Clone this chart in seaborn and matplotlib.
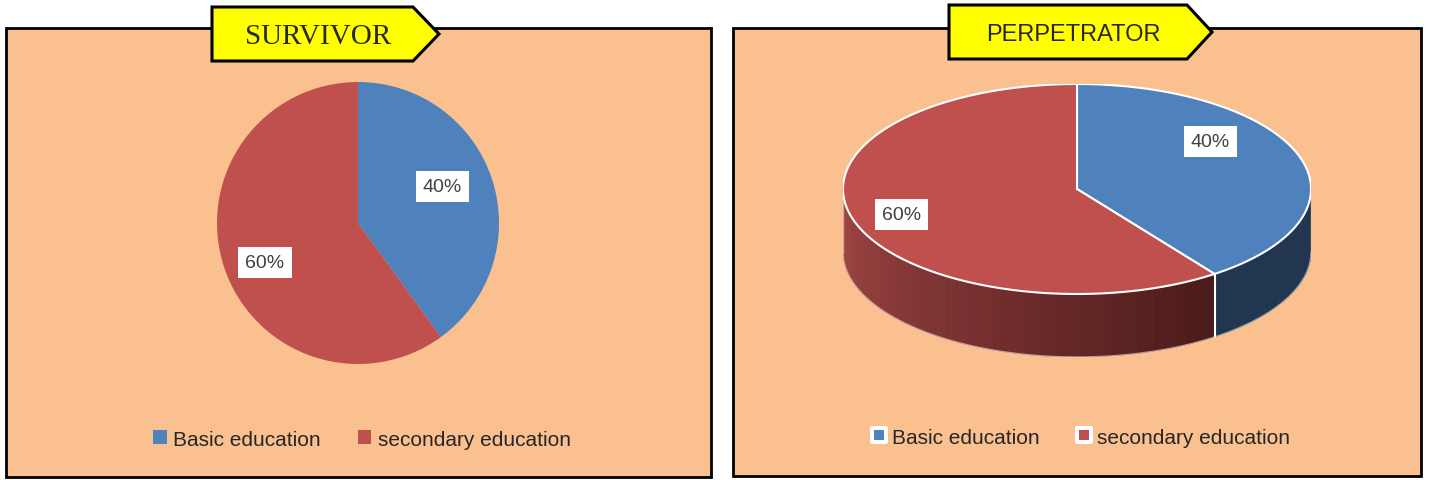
import numpy as np
import matplotlib.pyplot as plt
import seaborn as sns
from matplotlib.patches import Polygon, Rectangle, Patch
from matplotlib.lines import Line2D
from matplotlib.markers import MarkerStyle

# data
categories = ["Basic education", "secondary education"]
survivor_pct = [40, 60]
perpetrator_pct = [40, 60]
panel_titles = ["SURVIVOR", "PERPETRATOR"]

sns.set_style("white")
plt.rcParams["font.family"] = ["Liberation Sans", "DejaVu Sans"]

colors = sns.color_palette(["#4F81BD", "#C0504D"])
side_blue = "#1F3550"
bg = "#FAC090"
W, H = 1429, 481

fig = plt.figure(figsize=(W / 100, H / 100), dpi=100)

# background layer in pixel coordinates
base = fig.add_axes([0, 0, 1, 1])
base.set_xlim(0, W)
base.set_ylim(H, 0)
base.axis("off")

base.add_patch(Rectangle((6, 29), 705, 449, fc=bg, ec="black", lw=2))
base.add_patch(Rectangle((733, 29), 688, 448, fc=bg, ec="black", lw=2))

# yellow arrow banners
base.add_patch(Polygon([(212, 8), (413, 8), (439, 35), (413, 62), (212, 62)],
                       closed=True, fc="#FFFF00", ec="black", lw=2.2, zorder=3))
base.add_patch(Polygon([(949, 6), (1187, 6), (1212, 33), (1187, 60), (949, 60)],
                       closed=True, fc="#FFFF00", ec="black", lw=2.2, zorder=3))
base.text(318, 37, panel_titles[0], family="Liberation Serif", fontsize=21,
          ha="center", va="center", zorder=4)
base.text(1073, 35, panel_titles[1], family="Liberation Sans", fontsize=17,
          ha="center", va="center", zorder=4)

label_box = dict(fc="white", ec="none", pad=5)

# ---- left: flat pie ----
cx, cy, r = 358, 224, 141
ax1 = fig.add_axes([(cx - r) / W, (H - cy - r) / H, 2 * r / W, 2 * r / H])
wedges, _, autotexts = ax1.pie(
    survivor_pct, colors=colors, startangle=90, counterclock=False,
    autopct="%d%%", pctdistance=0.68,
    wedgeprops=dict(linewidth=0),
    textprops=dict(fontsize=14, color="#404040"),
)
# label spots used by the original chart (fraction of radius)
label_pos = [(0.60, 0.26), (-0.66, -0.28)]
for t, p in zip(autotexts, label_pos):
    t.set_bbox(label_box)
    t.set_position(p)
ax1.set_xlim(-1, 1)
ax1.set_ylim(-1, 1)
ax1.axis("off")

# ---- right: 3D-looking pie ----
rx = 234
k = 105 / rx      # vertical squash of the top face
d = 63 / rx       # thickness of the side wall
ax2 = fig.add_axes([843 / W, (H - 358) / H, 2 * rx / W, (k * 2 + d) * rx / H])
ax2.set_xlim(-1, 1)
ax2.set_ylim(-k - d, k)
ax2.axis("off")

fracs = np.array(perpetrator_pct) / sum(perpetrator_pct)
edges = 90 - 360 * np.concatenate([[0], np.cumsum(fracs)])  # clockwise from top


def visible_span(a0, a1):
    # part of the wedge [a0, a1] lying in the front half (-180..0 deg)
    for shift in (0, 360, -360):
        lo, hi = max(a0 + shift, -180), min(a1 + shift, 0)
        if lo < hi:
            return lo, hi
    return None


for i in range(len(fracs)):
    span = visible_span(edges[i + 1], edges[i])
    if span is None:
        continue
    segs = np.linspace(span[0], span[1], 60)
    for j in range(len(segs) - 1):
        t = np.radians(np.linspace(segs[j], segs[j + 1], 4))
        top = np.column_stack([np.cos(t), k * np.sin(t)])
        bot = np.column_stack([np.cos(t[::-1]), k * np.sin(t[::-1]) - d])
        if i == 0:
            c = side_blue
        else:
            f = (np.mean(segs[j:j + 2]) + 180) / (edges[1] + 180)
            c = (1 - f) * np.array([0.64, 0.28, 0.27]) + f * np.array([0.29, 0.10, 0.10])
        ax2.add_patch(Polygon(np.vstack([top, bot]), closed=True, fc=c, ec=c, lw=0.5))

# outline of side
t = np.radians(np.linspace(-180, 0, 200))
ax2.plot(np.cos(t), k * np.sin(t) - d, color="#f3e0d0", lw=1, alpha=0.6)
ax2.plot([-1, -1], [0, -d], color="#f3e0d0", lw=1, alpha=0.6)
ax2.plot([1, 1], [0, -d], color="#f3e0d0", lw=1, alpha=0.6)
b = np.radians(edges[1])
ax2.plot([np.cos(b), np.cos(b)], [k * np.sin(b), k * np.sin(b) - d], color="white", lw=1.5)

# top face
for i in range(len(fracs)):
    t = np.radians(np.linspace(edges[i], edges[i + 1], 200))
    pts = np.vstack([[0, 0], np.column_stack([np.cos(t), k * np.sin(t)])])
    ax2.add_patch(Polygon(pts, closed=True, fc=colors[i], ec="white", lw=1.5, zorder=3))

label_r = [0.6, 0.79]
label_dy = [0.12, 0.0]
for i in range(len(fracs)):
    mid = np.radians((edges[i] + edges[i + 1]) / 2)
    ax2.text(label_r[i] * np.cos(mid), k * label_r[i] * np.sin(mid) + label_dy[i],
             f"{perpetrator_pct[i]}%", fontsize=14, color="#404040",
             ha="center", va="center", bbox=label_box, zorder=5)

# legends
h1 = [Patch(fc=colors[i], ec="none") for i in range(2)]
fig.legend(h1, categories, loc="center", bbox_to_anchor=(362 / W, 1 - 440 / H),
           ncol=2, frameon=False, fontsize=15, handlelength=0.67, handleheight=0.67,
           handletextpad=0.3, columnspacing=1.75)

mk = MarkerStyle("s", joinstyle="round")
h2 = [Line2D([], [], marker=mk, linestyle="", markersize=9.4, markerfacecolor=colors[i],
             markeredgecolor="white", markeredgewidth=2.9) for i in range(2)]
fig.legend(h2, categories, loc="center", bbox_to_anchor=(1081 / W, 1 - 438 / H),
           ncol=2, frameon=False, fontsize=15, handlelength=0.7,
           handletextpad=0.3, columnspacing=1.75)

fig.savefig("out.png", dpi=100, facecolor="white")
